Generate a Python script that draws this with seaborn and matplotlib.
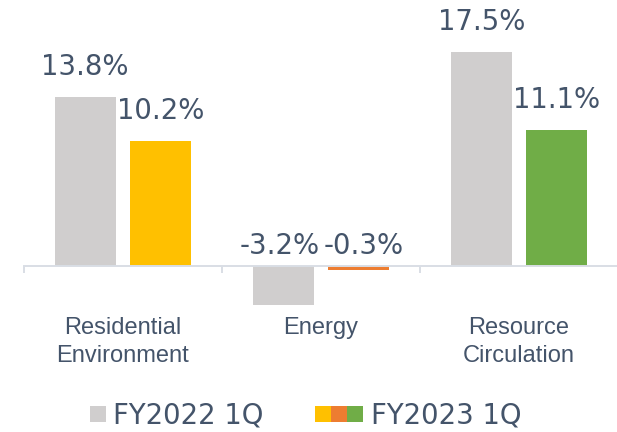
import numpy as np
import pandas as pd
import seaborn as sns
import matplotlib
matplotlib.use("Agg")
import matplotlib.pyplot as plt
from matplotlib.patches import Rectangle
from matplotlib.legend_handler import HandlerBase
from matplotlib.ticker import FixedLocator

# ---- data ----
segments = ["Residential\nEnvironment", "Energy", "Resource\nCirculation"]
periods = ["FY2022 1Q", "FY2023 1Q"]
fy2022 = [13.8, -3.2, 17.5]
fy2023 = [10.2, -0.3, 11.1]

grey = "#D0CECE"
fy2023_colors = ["#FFC000", "#ED7D31", "#70AD47"]
text_color = "#44546A"
axis_color = "#D9DEE5"

df = pd.DataFrame({
    "segment": segments * 2,
    "period": [periods[0]] * 3 + [periods[1]] * 3,
    "value": fy2022 + fy2023,
})

sns.set_theme(style="white")
plt.rcParams["font.family"] = ["DejaVu Sans"]

fig = plt.figure(figsize=(6.17, 4.32), dpi=100)
px_per_unit = 12.23
ax = fig.add_axes([24 / 617, 1 - 310 / 432, 594 / 617, 310 / 432])

sns.barplot(data=df, x="segment", y="value", hue="period", order=segments,
            hue_order=periods, palette=[grey, fy2023_colors[0]],
            width=0.763, gap=0.192, linewidth=0, ax=ax, legend=False,
            errorbar=None)

# per-category colours for FY2023
for patch, c in zip(ax.containers[1], fy2023_colors):
    patch.set_facecolor(c)

ax.set_xlim(-0.5, 2.5)
ax.set_ylim(-44 / px_per_unit, 266 / px_per_unit)

VAL_FS = 19.8
neg_dx = [-2.8, 3.2]  # nudge neighbouring negative labels apart (points)
# value labels
for k, cont in enumerate(ax.containers):
    for patch in cont:
        h = patch.get_height()
        x = patch.get_x() + patch.get_width() / 2
        if h >= 0:
            ax.annotate(f"{h:.1f}%", (x, h), xytext=(0, 11.5), textcoords="offset points",
                        ha="center", va="bottom", fontsize=VAL_FS, color=text_color)
        else:
            ax.annotate(f"{h:.1f}%", (x, 0), xytext=(neg_dx[k], 4.5),
                        textcoords="offset points",
                        ha="center", va="bottom", fontsize=VAL_FS, color=text_color)

# axes styling
for s in ["top", "right", "left"]:
    ax.spines[s].set_visible(False)
ax.spines["bottom"].set_position(("data", 0))
ax.spines["bottom"].set_color(axis_color)
ax.spines["bottom"].set_linewidth(1.4)
ax.set_yticks([])
ax.set_xlabel("")
ax.set_ylabel("")
ax.xaxis.set_minor_locator(FixedLocator([-0.5, 0.5, 1.5, 2.5]))
ax.tick_params(axis="x", which="major", length=0, pad=37, labelsize=17,
               labelcolor=text_color)
ax.tick_params(axis="x", which="minor", length=5, width=1.4, color=axis_color,
               direction="out", bottom=True)
for lab in ax.get_xticklabels():
    lab.set_fontfamily("Liberation Sans")
    lab.set_linespacing(1.32)


# legend with swatches
class Swatch:
    def __init__(self, colors):
        self.colors = colors


class SwatchHandler(HandlerBase):
    def create_artists(self, legend, orig_handle, xdescent, ydescent, width,
                       height, fontsize, trans):
        seg = width / 3
        n = len(orig_handle.colors)
        arts = []
        for i, c in enumerate(orig_handle.colors):
            x0 = width - (n - i) * seg - xdescent
            arts.append(Rectangle((x0, -ydescent), seg, height, facecolor=c,
                                  edgecolor="none", transform=trans))
        return arts


handles = [Swatch([grey]), Swatch(fy2023_colors)]
leg = fig.legend(handles, periods, handler_map={Swatch: SwatchHandler()},
                 loc="center", bbox_to_anchor=(0.469, 0.038), ncol=2,
                 frameon=False, fontsize=VAL_FS, handlelength=1.745,
                 handleheight=0.545, handletextpad=0.29, columnspacing=1.85,
                 borderpad=0, borderaxespad=0)
for t in leg.get_texts():
    t.set_color(text_color)

fig.savefig("out.png", dpi=100)
